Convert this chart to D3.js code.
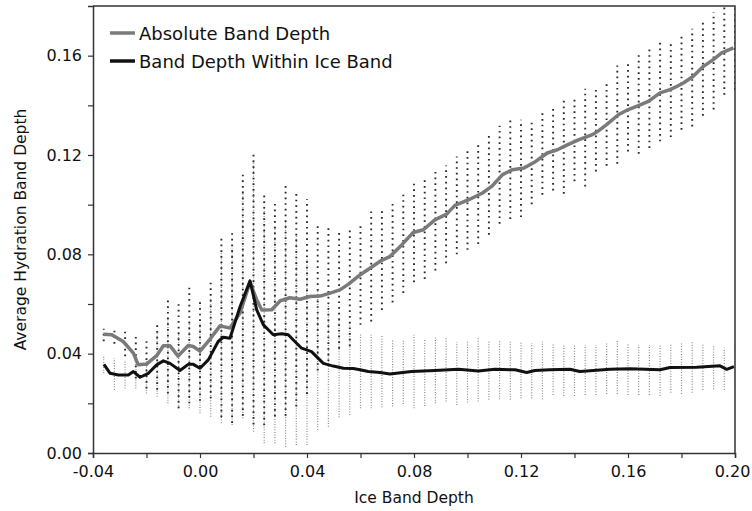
<!DOCTYPE html>
<html lang="en">
  <head>
    <meta charset="UTF-8" />
    <title>Average Hydration Band Depth</title>
    <script src="https://cdn.jsdelivr.net/npm/d3@7"></script>
    <style>
      body {
        margin: 0;
        padding: 0;
        background: #fff;
      }
      svg {
        display: block;
        font-family: 'DejaVu Sans', Verdana, sans-serif;
      }
    </style>
  </head>

  <body>
    <script>
      // series names (legend)
      const seriesNames = ['Absolute Band Depth', 'Band Depth Within Ice Band'];

      // absolute band depth curve: [ice band depth, avg hydration band depth]
      const absoluteLine = [
        [-0.0361, 0.0478], [-0.033, 0.0476], [-0.0287, 0.0449], [-0.0249, 0.0402], [-0.0231, 0.0355],
        [-0.02, 0.0358], [-0.0162, 0.0392], [-0.0137, 0.0432], [-0.0112, 0.0432], [-0.0082, 0.039],
        [-0.0044, 0.0433], [-0.0025, 0.0429], [0.0, 0.041], [0.0037, 0.0458], [0.0075, 0.0512],
        [0.0112, 0.0503], [0.015, 0.0565], [0.0187, 0.0688], [0.0212, 0.0617], [0.0231, 0.0576],
        [0.0268, 0.0577], [0.03, 0.0613], [0.0336, 0.0625], [0.0374, 0.0619], [0.0411, 0.063],
        [0.0449, 0.0632], [0.0486, 0.0644], [0.0523, 0.0657], [0.0554, 0.0679], [0.0598, 0.0717],
        [0.0642, 0.0749], [0.0679, 0.0776], [0.071, 0.0791], [0.0754, 0.0838], [0.0797, 0.0888],
        [0.0835, 0.0899], [0.0878, 0.0939], [0.0922, 0.0962], [0.0953, 0.0997], [0.1005, 0.102],
        [0.1056, 0.1047], [0.1093, 0.1076], [0.1131, 0.1121], [0.1168, 0.1141], [0.1211, 0.1148],
        [0.1255, 0.1174], [0.1298, 0.1208], [0.1336, 0.1221], [0.1373, 0.1241], [0.1417, 0.1262],
        [0.1467, 0.1282], [0.1493, 0.13], [0.152, 0.1322], [0.1564, 0.1362], [0.1601, 0.1383],
        [0.1639, 0.1399], [0.1676, 0.1416], [0.172, 0.145], [0.1757, 0.1463], [0.1782, 0.1476],
        [0.1807, 0.149], [0.1844, 0.1517], [0.1882, 0.1557], [0.1919, 0.1584], [0.195, 0.1611],
        [0.1994, 0.1631]
      ];

      // band depth within ice band curve
      const withinLine = [
        [-0.0359, 0.0357], [-0.0336, 0.0321], [-0.0305, 0.0314], [-0.0268, 0.0314], [-0.0249, 0.0328],
        [-0.0224, 0.0305], [-0.0193, 0.0321], [-0.0162, 0.0355], [-0.0137, 0.0371], [-0.0112, 0.0361],
        [-0.0075, 0.0332], [-0.0044, 0.0357], [-0.0025, 0.0357], [0.0, 0.0341], [0.0031, 0.0375],
        [0.0068, 0.0449], [0.0087, 0.0466], [0.0112, 0.0462], [0.015, 0.059], [0.0187, 0.0693],
        [0.0212, 0.0576], [0.0237, 0.0516], [0.0274, 0.0476], [0.0305, 0.048], [0.033, 0.0476],
        [0.0349, 0.0455], [0.038, 0.0422], [0.0417, 0.0408], [0.0461, 0.0361], [0.0498, 0.035],
        [0.0536, 0.0341], [0.0573, 0.034], [0.0598, 0.0335], [0.0629, 0.0328], [0.0673, 0.0324],
        [0.071, 0.0318], [0.0791, 0.0328], [0.0878, 0.0332], [0.0966, 0.0337], [0.104, 0.033],
        [0.1103, 0.0337], [0.1178, 0.0335], [0.1221, 0.0324], [0.1252, 0.0332], [0.1308, 0.0335],
        [0.1383, 0.0337], [0.142, 0.0328], [0.1533, 0.0337], [0.1607, 0.0339], [0.172, 0.0335],
        [0.1757, 0.0344], [0.1857, 0.0345], [0.1944, 0.0351], [0.1969, 0.0337], [0.1996, 0.0348]
      ];

      // error bar bins (ice band depth)
      const binCenters = [
        -0.036, -0.032, -0.028, -0.024, -0.02, -0.016, -0.012, -0.008, -0.004, 0.0,
        0.004, 0.008, 0.012, 0.016, 0.02, 0.024, 0.028, 0.032, 0.036, 0.04,
        0.044, 0.048, 0.052, 0.056, 0.06, 0.064, 0.068, 0.072, 0.076, 0.08,
        0.084, 0.088, 0.092, 0.096, 0.1, 0.104, 0.108, 0.112, 0.116, 0.12,
        0.124, 0.128, 0.132, 0.136, 0.14, 0.144, 0.148, 0.152, 0.156, 0.16,
        0.164, 0.168, 0.172, 0.176, 0.18, 0.184, 0.188, 0.192, 0.196, 0.2
      ];

      // absolute band depth error bar ends
      const absoluteLow = [
        0.045, 0.044, 0.039, 0.03, 0.026, 0.0255, 0.024, 0.018, 0.02, 0.021,
        0.022, 0.0144, 0.0121, 0.015, 0.0115, 0.0112, 0.0147, 0.015, 0.0187, 0.0238,
        0.0332, 0.037, 0.042, 0.043, 0.0516, 0.053, 0.0576, 0.0606, 0.0644, 0.0688,
        0.0701, 0.0735, 0.0764, 0.08, 0.0818, 0.0842, 0.0879, 0.0923, 0.0942, 0.095,
        0.1002, 0.104, 0.1057, 0.1044, 0.1094, 0.1073, 0.1134, 0.1157, 0.1165, 0.1214,
        0.1205, 0.1228, 0.1255, 0.1272, 0.1302, 0.1315, 0.1358, 0.1383, 0.1443, 0.1463
      ];
      const absoluteHigh = [
        0.05, 0.0507, 0.0503, 0.0482, 0.0462, 0.0525, 0.0623, 0.0599, 0.0666, 0.0609,
        0.0697, 0.0876, 0.0899, 0.1127, 0.1205, 0.104, 0.1013, 0.108, 0.1053, 0.1022,
        0.0928, 0.091, 0.0892, 0.0912, 0.0919, 0.0973, 0.0977, 0.1004, 0.104, 0.1084,
        0.11, 0.1137, 0.1158, 0.1194, 0.1221, 0.1241, 0.1278, 0.1318, 0.1342, 0.1342,
        0.1336, 0.1372, 0.1392, 0.1434, 0.1427, 0.1467, 0.147, 0.149, 0.156, 0.1577,
        0.1604, 0.1627, 0.1654, 0.1662, 0.1692, 0.1708, 0.1748, 0.1775, 0.18, 0.182
      ];

      // within ice band error bar ends
      const withinLow = [
        0.0321, 0.0254, 0.026, 0.026, 0.024, 0.0227, 0.02, 0.018, 0.018, 0.016,
        0.0146, 0.012, 0.0113, 0.014, 0.0086, 0.0039, 0.0039, 0.0025, 0.0032, 0.0032,
        0.0093, 0.0106, 0.0144, 0.0153, 0.018, 0.018, 0.0184, 0.0187, 0.0197, 0.018,
        0.0189, 0.02, 0.0207, 0.0193, 0.0203, 0.0207, 0.0214, 0.0216, 0.0214, 0.022,
        0.022, 0.0216, 0.0234, 0.023, 0.023, 0.0234, 0.0234, 0.0238, 0.0238, 0.0234,
        0.0234, 0.0234, 0.023, 0.0243, 0.0238, 0.0243, 0.0254, 0.0257, 0.0254, 0.026
      ];
      const withinHigh = [
        0.0395, 0.0382, 0.0368, 0.039, 0.038, 0.0483, 0.054, 0.049, 0.0534, 0.0522,
        0.0624, 0.0806, 0.0827, 0.106, 0.118, 0.0993, 0.0913, 0.093, 0.0878, 0.0788,
        0.0657, 0.0608, 0.0544, 0.053, 0.0482, 0.0476, 0.0476, 0.0453, 0.0458, 0.0476,
        0.046, 0.0465, 0.0462, 0.0446, 0.0449, 0.0469, 0.0453, 0.0455, 0.0449, 0.0449,
        0.0442, 0.0449, 0.0442, 0.0435, 0.0435, 0.0435, 0.0435, 0.0442, 0.0455, 0.044,
        0.0435, 0.0435, 0.0435, 0.0442, 0.0442, 0.0446, 0.0442, 0.0431, 0.0424, 0.044
      ];

      const xTicks = [-0.04, -0.02, 0.0, 0.02, 0.04, 0.06, 0.08, 0.1, 0.12, 0.14, 0.16, 0.18, 0.2];
      const yTicks = [0.0, 0.02, 0.04, 0.06, 0.08, 0.1, 0.12, 0.14, 0.16];

      const width = 752;
      const height = 511;
      const margin = { top: 6, right: 17, bottom: 58, left: 93 };

      const svg = d3.select('body').append('svg').attr('width', width).attr('height', height);

      const x = d3.scaleLinear().domain([-0.04, 0.2]).range([margin.left, width - margin.right]);
      const y = d3.scaleLinear().domain([0, 0.18]).range([height - margin.bottom, margin.top]);

      // only every 0.04 gets a label, plain hyphen for negatives
      const labelled = (d) => Math.abs(Math.round(d * 100) % 4) === 0;
      const fmt = (d) => (labelled(d) ? (Math.abs(d) < 1e-9 ? 0 : d).toFixed(2) : '');

      // clip for the plot area
      svg.append('clipPath').attr('id', 'plot')
        .append('rect')
        .attr('x', margin.left).attr('y', margin.top)
        .attr('width', width - margin.left - margin.right)
        .attr('height', height - margin.top - margin.bottom);

      const plot = svg.append('g').attr('clip-path', 'url(#plot)');

      // within ice band error bars (fine light dots)
      plot.append('g')
        .selectAll('line')
        .data(binCenters)
        .join('line')
        .attr('x1', (d) => x(d)).attr('x2', (d) => x(d))
        .attr('y1', (d, i) => y(withinLow[i]))
        .attr('y2', (d, i) => y(withinHigh[i]))
        .attr('stroke', '#8a8a8a')
        .attr('stroke-width', 1.2)
        .attr('stroke-dasharray', '1 1.6');

      // absolute error bars (coarser dark dots)
      plot.append('g')
        .selectAll('line')
        .data(binCenters)
        .join('line')
        .attr('x1', (d) => x(d)).attr('x2', (d) => x(d))
        .attr('y1', (d, i) => y(absoluteLow[i]))
        .attr('y2', (d, i) => y(absoluteHigh[i]))
        .attr('stroke', '#2a2a2a')
        .attr('stroke-width', 1.9)
        .attr('stroke-dasharray', '1.7 4');

      const line = d3.line().x((d) => x(d[0])).y((d) => y(d[1]));

      plot.append('path')
        .datum(absoluteLine)
        .attr('d', line)
        .attr('fill', 'none')
        .attr('stroke', '#7a7a7a')
        .attr('stroke-width', 3.5)
        .attr('stroke-linejoin', 'round');

      plot.append('path')
        .datum(withinLine)
        .attr('d', line)
        .attr('fill', 'none')
        .attr('stroke', '#111')
        .attr('stroke-width', 3)
        .attr('stroke-linejoin', 'round');

      // axes
      const xAxis = svg.append('g')
        .attr('transform', `translate(0,${height - margin.bottom})`)
        .call(d3.axisBottom(x).tickValues(xTicks).tickSize(5).tickPadding(8).tickFormat(fmt));

      const yAxis = svg.append('g')
        .attr('transform', `translate(${margin.left},0)`)
        .call(d3.axisLeft(y).tickValues(yTicks).tickSize(5).tickPadding(6).tickFormat(fmt));

      [xAxis, yAxis].forEach((g) => {
        g.select('.domain').attr('stroke', '#333').attr('stroke-width', 1.5);
        g.selectAll('.tick line').attr('stroke', '#333').attr('stroke-width', 1.2);
        g.selectAll('.tick text')
          .attr('fill', '#111')
          .style('font-size', '16px')
          .style('font-family', "'DejaVu Sans', Verdana, sans-serif");
      });

      // last x label sits against the page edge
      xAxis.selectAll('.tick text').filter((d) => d === 0.2).attr('dx', -3);

      // frame on the top and right
      svg.append('path')
        .attr('d', `M${margin.left},${margin.top}H${width - margin.right}V${height - margin.bottom}`)
        .attr('fill', 'none')
        .attr('stroke', '#333')
        .attr('stroke-width', 1.5);

      // axis titles
      svg.append('text')
        .attr('x', (margin.left + width - margin.right) / 2)
        .attr('y', 503)
        .attr('text-anchor', 'middle')
        .attr('fill', '#111')
        .style('font-size', '15.5px')
        .text('Ice Band Depth');

      svg.append('text')
        .attr('transform', `translate(26,${(margin.top + height - margin.bottom) / 2}) rotate(-90)`)
        .attr('text-anchor', 'middle')
        .attr('fill', '#111')
        .style('font-size', '15.5px')
        .text('Average Hydration Band Depth');

      // legend
      const legendColors = ['#7a7a7a', '#111'];
      const legend = svg.append('g');
      seriesNames.forEach((name, i) => {
        const ly = 33 + i * 28;
        legend.append('line')
          .attr('x1', 110).attr('x2', 135)
          .attr('y1', ly).attr('y2', ly)
          .attr('stroke', legendColors[i])
          .attr('stroke-width', 3.5);
        legend.append('text')
          .attr('x', 139)
          .attr('y', ly + 6.5)
          .attr('fill', '#111')
          .style('font-size', '18px')
          .text(name);
      });
    </script>
  </body>
</html>
